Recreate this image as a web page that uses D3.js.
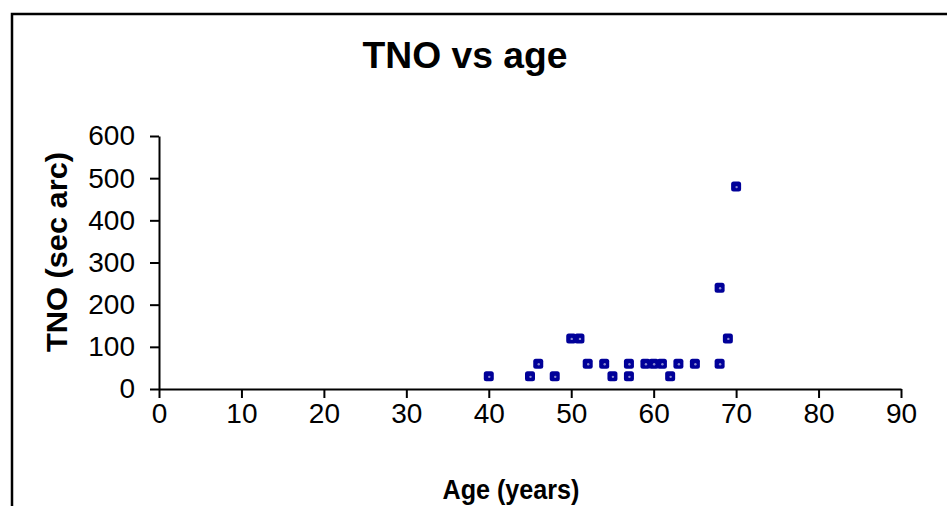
<!DOCTYPE html>
<html>
<head>
<meta charset="utf-8">
<script src="https://cdn.jsdelivr.net/npm/d3@7"></script>
<style>
html,body{margin:0;padding:0;background:#fff;}
svg{display:block;}
text{font-family:Arial,"Liberation Sans",sans-serif;fill:#000;}
</style>
</head>
<body>
<script>
const ages = [40,45,46,48,50,51,52,54,55,57,57,59,60,61,62,63,65,68,68,69,70];
const tnoValues = [30,30,60,30,120,120,60,60,30,60,30,60,60,60,30,60,60,60,240,120,480];
const xTicks = [0,10,20,30,40,50,60,70,80,90];
const yTicks = [0,100,200,300,400,500,600];
const titleText = "TNO vs age";
const xLabel = "Age (years)";
const yLabel = "TNO (sec arc)";

const W = 947, H = 506;
const svg = d3.select("body").append("svg").attr("width", W).attr("height", H);
svg.append("rect").attr("width", W).attr("height", H).attr("fill", "#fff");

// outer frame (left and top visible)
svg.append("path").attr("d", `M12,${H+2} L12,14 L${W+2},14`)
  .attr("fill", "none").attr("stroke", "#000").attr("stroke-width", 2.5);

const x = d3.scaleLinear().domain([0, 90]).range([159, 901]);
const y = d3.scaleLinear().domain([0, 600]).range([389, 136]);

const xAxis = svg.append("g").attr("transform", `translate(0,${y(0)})`)
  .call(d3.axisBottom(x).tickValues(xTicks).tickSize(9).tickSizeOuter(0).tickPadding(5));
const yAxis = svg.append("g").attr("transform", `translate(${x(0)},0)`)
  .call(d3.axisLeft(y).tickValues(yTicks).tickSize(9).tickSizeOuter(0).tickPadding(15));
[xAxis, yAxis].forEach(g => {
  g.select(".domain").attr("stroke", "#000").attr("stroke-width", 2);
  g.selectAll(".tick line").attr("stroke", "#000").attr("stroke-width", 2);
  g.selectAll(".tick text").attr("font-size", 28).attr("font-family", "Arial, 'Liberation Sans', sans-serif").attr("fill", "#000");
});

// points
const pts = ages.map((a, i) => ({a, t: tnoValues[i]}));
const m = svg.append("g");
m.selectAll("rect").data(pts).enter().append("rect")
  .attr("x", d => x(d.a) - 5).attr("y", d => y(d.t) - 5)
  .attr("width", 10).attr("height", 10).attr("rx", 2.5)
  .attr("fill", "#000099");
m.selectAll("circle").data(pts).enter().append("circle")
  .attr("cx", d => x(d.a) + 0.5).attr("cy", d => y(d.t) + 0.5).attr("r", 1.2)
  .attr("fill", "#8a8ad0");

// title
svg.append("text").attr("x", 465).attr("y", 68).attr("text-anchor", "middle")
  .attr("font-size", 37).attr("font-weight", "bold")
  .attr("textLength", 205).attr("lengthAdjust", "spacingAndGlyphs")
  .text(titleText);

// x label
svg.append("text").attr("x", 511).attr("y", 499).attr("text-anchor", "middle")
  .attr("font-size", 27).attr("font-weight", "bold")
  .attr("textLength", 137).attr("lengthAdjust", "spacingAndGlyphs")
  .text(xLabel);

// y label
svg.append("text").attr("transform", "translate(67,252) rotate(-90)")
  .attr("text-anchor", "middle")
  .attr("font-size", 29).attr("font-weight", "bold")
  .attr("textLength", 200).attr("lengthAdjust", "spacingAndGlyphs")
  .text(yLabel);
</script>
</body>
</html>
